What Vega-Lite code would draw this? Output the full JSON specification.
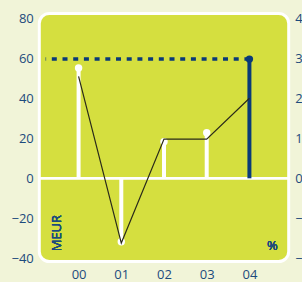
{
  "$schema": "https://vega.github.io/schema/vega-lite/v6.json",
  "autosize": {"type": "none"},
  "padding": {"left": 39.3, "top": 13.5, "right": 13.3, "bottom": 20.5},
  "width": 249.4,
  "height": 248,
  "background": "#f1f4d8",
  "view": {"fill": "#d5df3f", "stroke": "white", "strokeWidth": 3, "cornerRadius": 10},
  "config": {
    "axis": {"grid": false, "domain": false, "ticks": false, "labelColor": "#1d4b7d", "labelFont": "Open Sans", "labelFontSize": 13, "title": null}
  },
  "data": {
    "values": [
      {"yr": "00", "meur": 55.2, "pct": 2.55},
      {"yr": "01", "meur": -31.7, "pct": -1.62},
      {"yr": "02", "meur": 18.3, "pct": 0.98},
      {"yr": "03", "meur": 22.8, "pct": 0.98},
      {"yr": "04", "meur": 59.6, "pct": 2.0}
    ]
  },
  "layer": [
    {
      "layer": [
        {
          "mark": {"type": "rule", "color": "white", "strokeWidth": 2},
          "encoding": {
            "y": {"datum": 0, "type": "quantitative", "scale": {"domain": [-41.6, 82.4], "nice": false, "zero": false}, "axis": {"values": [-40, -20, 0, 20, 40, 60, 80], "labelPadding": 6}}
          }
        },
        {
          "mark": {"type": "rule", "strokeWidth": 4},
          "encoding": {
            "x": {"field": "yr", "type": "ordinal", "scale": {"type": "point", "padding": 0.92}, "axis": {"labelAngle": 0, "labelPadding": 7}},
            "y": {"field": "meur", "type": "quantitative"},
            "y2": {"datum": 0},
            "color": {"condition": {"test": "datum.yr === '04'", "value": "#0a3a78"}, "value": "white"}
          }
        },
        {
          "transform": [{"filter": "datum.yr === '04'"}],
          "mark": {"type": "rule", "strokeWidth": 3.5, "color": "#0a3a78", "strokeDash": [5, 5.7], "x2Offset": -33},
          "encoding": {
            "x": {"field": "yr", "type": "ordinal"},
            "x2": {"datum": "00"},
            "y": {"field": "meur", "type": "quantitative"}
          }
        },
        {
          "mark": {"type": "point", "filled": true, "opacity": 1, "size": 55},
          "encoding": {
            "x": {"field": "yr", "type": "ordinal"},
            "y": {"field": "meur", "type": "quantitative"},
            "color": {"condition": {"test": "datum.yr === '04'", "value": "#0a3a78"}, "value": "white"}
          }
        },
        {
          "mark": {"type": "text", "text": "MEUR", "angle": 270, "font": "Open Sans", "fontSize": 13, "fontWeight": "normal", "color": "#1d4b7d", "dy": -22},
          "encoding": {"x": {"datum": "00", "type": "ordinal"}, "y": {"datum": -27.4, "type": "quantitative"}}
        },
        {
          "mark": {"type": "text", "text": "%", "font": "Open Sans", "fontSize": 13, "fontWeight": "normal", "color": "#1d4b7d", "dx": 23},
          "encoding": {"x": {"datum": "04", "type": "ordinal"}, "y": {"datum": -33.9, "type": "quantitative"}}
        }
      ]
    },
    {
      "mark": {"type": "line", "color": "#2a2a1a", "strokeWidth": 1.2},
      "encoding": {
        "x": {"field": "yr", "type": "ordinal"},
        "y": {"field": "pct", "type": "quantitative", "scale": {"domain": [-2.08, 4.12], "nice": false, "zero": false}, "axis": {"orient": "right", "values": [-2, -1, 0, 1, 2, 3, 4], "labelPadding": 6}}
      }
    }
  ],
  "resolve": {"scale": {"y": "independent"}, "axis": {"y": "independent"}}
}
